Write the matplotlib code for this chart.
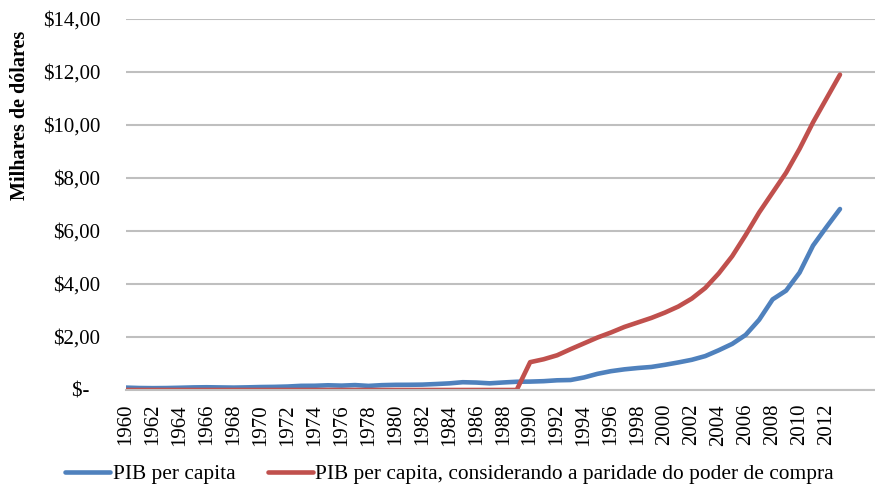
import numpy as np
import matplotlib
matplotlib.use("Agg")
import matplotlib.pyplot as plt

years = list(range(1960, 2014))

# PIB per capita (milhares de US$)
pib = [0.09, 0.075, 0.07, 0.074, 0.085, 0.098, 0.104, 0.097, 0.091, 0.10,
       0.112, 0.118, 0.131, 0.157, 0.16, 0.178, 0.165, 0.185, 0.155, 0.183,
       0.195, 0.197, 0.203, 0.225, 0.25, 0.294, 0.281, 0.252, 0.284, 0.311,
       0.317, 0.333, 0.366, 0.377, 0.473, 0.61, 0.71, 0.78, 0.83, 0.87,
       0.95, 1.04, 1.14, 1.28, 1.50, 1.74, 2.08, 2.65, 3.42, 3.75,
       4.43, 5.45, 6.15, 6.83]

# PIB per capita PPC (zero antes de 1990)
pib_ppc = [0.0] * 30 + [1.05, 1.16, 1.31, 1.54, 1.76, 1.98, 2.17, 2.38, 2.55, 2.72,
                        2.92, 3.15, 3.45, 3.85, 4.40, 5.05, 5.85, 6.70, 7.45, 8.20,
                        9.10, 10.10, 11.00, 11.90]

y_ticks = [0, 2, 4, 6, 8, 10, 12, 14]
y_labels = ["$-  ", "$2,00", "$4,00", "$6,00", "$8,00", "$10,00", "$12,00", "$14,00"]

plt.rcParams['font.family'] = ['Liberation Serif', 'DejaVu Serif']

fig = plt.figure(figsize=(8.75, 4.91), dpi=100)
ax = fig.add_axes([126 / 875, 1 - 390 / 491, 1 - 126 / 875, (390 - 19) / 491])

ax.plot(years, pib, color="#4F81BD", lw=3.3, solid_capstyle="round",
        solid_joinstyle="round", label="PIB per capita")
ax.plot(years, pib_ppc, color="#C0504D", lw=3.3, solid_capstyle="round",
        solid_joinstyle="round",
        label="PIB per capita, considerando a paridade do poder de compra")

ax.set_xlim(1960, 2015.6)
ax.set_ylim(0, 14)
ax.set_yticks(y_ticks)
ax.set_yticklabels(y_labels, fontsize=15)
ax.set_xticks(years[::2])
ax.set_xticklabels([str(y) for y in years[::2]], rotation=90, fontsize=15)
ax.tick_params(axis="y", length=0, pad=18.5)
ax.tick_params(axis="x", length=0, pad=10)

ax.grid(axis="y", color="#BFBFBF", lw=1.5)
ax.set_axisbelow(True)
for s in ["top", "right", "left"]:
    ax.spines[s].set_visible(False)
ax.spines["bottom"].set_color("#BFBFBF")
ax.spines["bottom"].set_linewidth(1.5)

fig.text(20 / 875, 1 - 115 / 491, "Milhares de dólares", rotation=90,
         fontsize=14.5, fontweight="bold", ha="center", va="center")

fig.legend(loc="center", bbox_to_anchor=(0.514, 1 - 474 / 491), ncol=2,
           frameon=False, fontsize=15.4, handlelength=2.1, handletextpad=0.1,
           columnspacing=1.55)

fig.savefig("out.png", dpi=100)
